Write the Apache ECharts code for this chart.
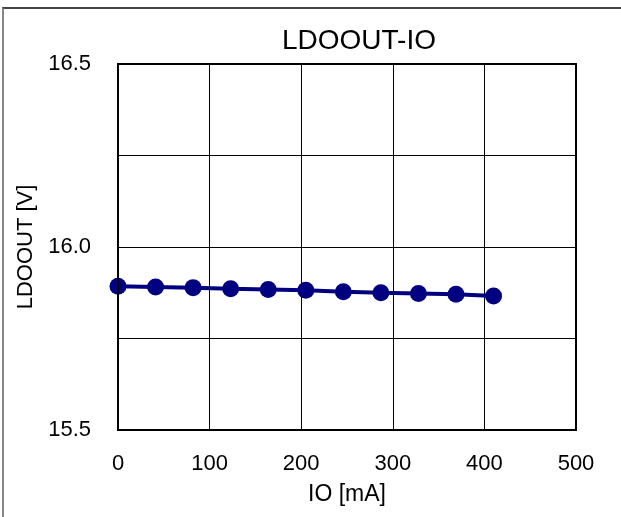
<!DOCTYPE html>
<html><head><meta charset="utf-8">
<script src="https://cdn.jsdelivr.net/npm/echarts@6/dist/echarts.min.js"></script>
<style>html,body{margin:0;padding:0;background:#fff;}
#frame{position:absolute;left:2px;top:7px;width:640px;height:540px;border-left:2px solid #888;border-top:2px solid #444;}
#c{position:absolute;left:0;top:0;width:621px;height:517px;}</style>
</head><body><div id="frame"></div><div id="c"></div>
<script>
const titleText = 'LDOOUT-IO';
const xName = 'IO [mA]';
const yName = 'LDOOUT [V]';
const ioValues = [0, 41, 82, 123, 164, 205, 246, 287, 328, 369, 410];
const ldoValues = [15.893, 15.891, 15.889, 15.886, 15.884, 15.882, 15.878, 15.875, 15.873, 15.871, 15.866];
const chart = echarts.init(document.getElementById('c'));
const font = 'Liberation Sans, Arial, sans-serif';
chart.setOption({
  animation: false,
  title: {text: titleText, left: 354, top: 22, textAlign: 'center',
    textStyle: {fontFamily: font, fontSize: 28, fontWeight: 'normal', color: '#000'}},
  grid: {left: 118, right: 45, top: 64, bottom: 87},
  xAxis: {type: 'value', min: 0, max: 500, interval: 100,
    name: xName, nameLocation: 'middle', nameGap: 53,
    nameTextStyle: {fontFamily: font, fontSize: 23, color: '#000'},
    axisLine: {show: false}, axisTick: {show: false},
    axisLabel: {fontFamily: font, fontSize: 22, color: '#000', margin: 23},
    splitLine: {show: true, lineStyle: {color: '#000', width: 1}}},
  yAxis: {type: 'value', min: 15.5, max: 16.5, interval: 0.25,
    name: yName, nameLocation: 'middle', nameGap: 77,
    nameTextStyle: {fontFamily: font, fontSize: 22, color: '#000'},
    axisLine: {show: false}, axisTick: {show: false},
    axisLabel: {fontFamily: font, fontSize: 22, color: '#000', margin: 27,
      formatter: v => (Math.abs(v*2 - Math.round(v*2)) < 1e-6) ? v.toFixed(1) : ''},
    splitLine: {show: true, lineStyle: {color: '#000', width: 1}}},
  series: [{type: 'line', data: ioValues.map((x, i) => [x, ldoValues[i]]),
    symbol: 'circle', symbolSize: 17,
    lineStyle: {color: '#000080', width: 4},
    itemStyle: {color: '#000080'}}],
  graphic: [{type: 'rect', shape: {x: 118, y: 64, width: 458, height: 366},
    style: {fill: 'none', stroke: '#000', lineWidth: 2}, z: 100}]
});
</script></body></html>
